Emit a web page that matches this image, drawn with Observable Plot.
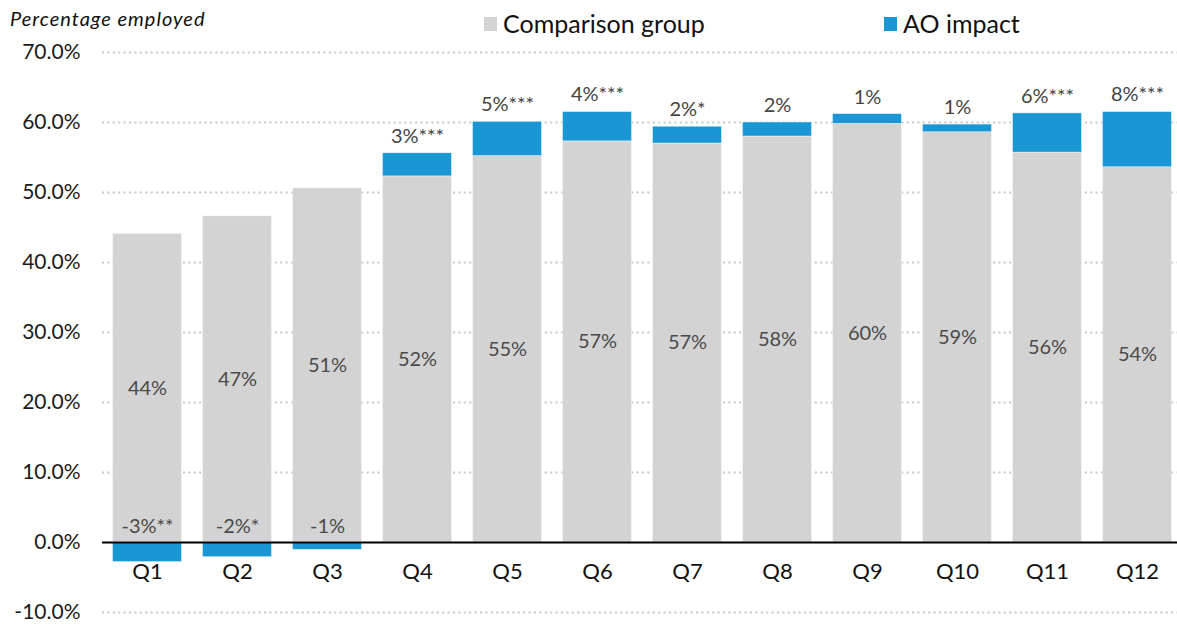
<!DOCTYPE html>
<html>
<head>
<meta charset="utf-8">
<script src="https://cdn.jsdelivr.net/npm/d3@7"></script>
<script src="https://cdn.jsdelivr.net/npm/@observablehq/plot@0.6"></script>
<style>
  html, body { margin: 0; padding: 0; background: #fff; overflow: hidden; }
  #wrap { position: relative; width: 1177px; height: 624px; font-family: Lato, "DejaVu Sans", sans-serif; }
  #title { position: absolute; left: 10px; top: 8px; font-size: 20px; line-height: 20px; letter-spacing: 1px; font-style: italic; color: #111; white-space: nowrap; }
  .leg { position: absolute; top: 11px; font-size: 25px; line-height: 25px; color: #111; white-space: nowrap; }
  .sw { position: absolute; top: 17px; width: 13px; height: 14px; }
</style>
</head>
<body>
<div id="wrap">
  <div id="chart"></div>
  <div id="title">Percentage employed</div>
  <div class="sw" style="left:484px;background:#d3d3d3"></div>
  <div class="leg" style="left:503px">Comparison group</div>
  <div class="sw" style="left:884px;background:#1996d3"></div>
  <div class="leg" style="left:903px">AO impact</div>
</div>
<script>
const quarters = ["Q1","Q2","Q3","Q4","Q5","Q6","Q7","Q8","Q9","Q10","Q11","Q12"];
const comparison = [44.1, 46.6, 50.6, 52.3, 55.2, 57.3, 57.0, 58.0, 59.8, 58.6, 55.7, 53.6];
const impact = [-2.8, -2.1, -1.05, 3.3, 4.9, 4.2, 2.4, 2.0, 1.4, 1.1, 5.6, 7.9];
const stars = ["**", "*", "", "***", "***", "***", "*", "", "", "", "***", "***"];
const groups = ["Comparison group", "AO impact"];
const colors = ["#d3d3d3", "#1996d3"];
const yTicks = [-10, 0, 10, 20, 30, 40, 50, 60, 70];

const rows = quarters.map((q, i) => ({q, comp: comparison[i], imp: impact[i], star: stars[i]}));
const long = [];
rows.forEach(r => {
  long.push({q: r.q, group: groups[0], value: r.comp});
  long.push({q: r.q, group: groups[1], value: r.imp});
});
const pos = rows.filter(r => r.imp >= 0);
const neg = rows.filter(r => r.imp < 0);

const chart = Plot.plot({
  width: 1177,
  height: 624,
  marginTop: 52,
  marginBottom: 12,
  marginLeft: 102,
  marginRight: 0,
  style: {fontFamily: "Lato, sans-serif", background: "#fff", overflow: "visible"},
  x: {domain: quarters, paddingInner: 0.2333, paddingOuter: 0.0889, align: 0.656, round: false, axis: null},
  y: {domain: [-10, 70], axis: null},
  color: {domain: groups, range: colors},
  marks: [
    Plot.ruleY(yTicks.filter(d => d !== 0), {stroke: "#c6c6c6", strokeWidth: 2, strokeDasharray: "2,3.4"}),
    Plot.barY(long, Plot.stackY({x: "q", y: "value", fill: "group", order: groups, stroke: "#fff", strokeWidth: 0.6, strokeOpacity: 0.7})),
    Plot.ruleY([0], {stroke: "#000", strokeWidth: 2}),
    Plot.axisY({ticks: yTicks, label: null, tickSize: 0, tickPadding: 22, fontSize: 21, tickFormat: d => d.toFixed(1) + "%", color: "#1a1a1a"}),
    Plot.text(rows, {x: "q", y: d => d.comp / 2, text: d => Math.round(d.comp) + "%", fontSize: 20, fill: "#4a4a4a"}),
    Plot.text(pos, {x: "q", y: d => d.comp + d.imp, dy: -17, text: d => Math.round(d.imp) + "%" + d.star, fontSize: 20, fill: "#444"}),
    Plot.text(neg, {x: "q", y: 0, dy: -16, text: d => Math.round(d.imp) + "%" + d.star, fontSize: 20, fill: "#4a4a4a"}),
    Plot.text(rows, {x: "q", y: 0, dy: 29, text: "q", fontSize: 22, fill: "#111"})
  ]
});
document.getElementById("chart").appendChild(chart);
</script>
</body>
</html>
